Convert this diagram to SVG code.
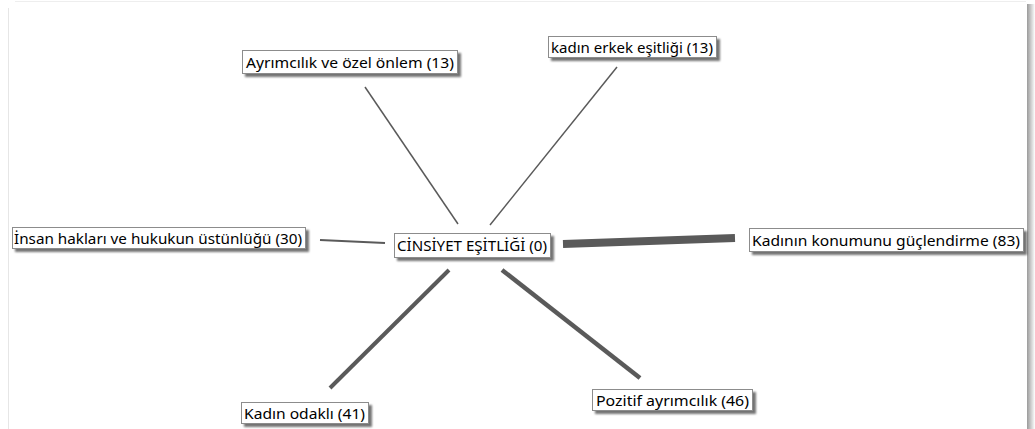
<svg xmlns="http://www.w3.org/2000/svg" width="1035" height="429" viewBox="0 0 1035 429">
<defs>
<linearGradient id="rs" x1="0" x2="1" y1="0" y2="0"><stop offset="0" stop-color="#9a9a9a"/><stop offset="1" stop-color="#ffffff"/></linearGradient>
<filter id="sh" x="-5%" y="-20%" width="115%" height="160%"><feGaussianBlur in="SourceAlpha" stdDeviation="0.8"/><feOffset dx="3" dy="3"/><feComponentTransfer><feFuncA type="linear" slope="0.55"/></feComponentTransfer><feMerge><feMergeNode/><feMergeNode in="SourceGraphic"/></feMerge></filter>
</defs>
<style>
.box{fill:#fff;stroke:#8c8c8c;stroke-width:1;filter:url(#sh)}
.t{font-family:"Noto Sans","Open Sans",sans-serif;font-size:15px;fill:#000}
.c{stroke:#5a5a5a;fill:none}
</style>
<rect width="1035" height="429" fill="#fff"/>
<g id="frame">
<line x1="15" y1="1.5" x2="1026" y2="1.5" stroke="#eeeeee"/>
<line x1="8.5" y1="8" x2="8.5" y2="429" stroke="#e6e6e6"/>
<rect x="1027" y="4" width="8" height="425" fill="url(#rs)"/>
</g>
<g id="connectors">
<line class="c" x1="365" y1="87" x2="458" y2="224" stroke-width="1.5"/>
<line class="c" x1="617" y1="67" x2="490" y2="225" stroke-width="1.5"/>
<line class="c" x1="320" y1="240" x2="385" y2="243" stroke-width="2.2"/>
<line class="c" x1="563" y1="244" x2="735" y2="238" stroke-width="8"/>
<line class="c" x1="449" y1="270" x2="330" y2="388" stroke-width="4"/>
<line class="c" x1="502" y1="270" x2="640" y2="378" stroke-width="4.5"/>
</g>
<g id="n-ayrimcilik"><rect class="box" x="242.5" y="50.5" width="215" height="23"/><text class="t" x="246" y="67.5" textLength="208" lengthAdjust="spacingAndGlyphs">Ayrımcılık ve özel önlem (13)</text></g>
<g id="n-kadin-erkek"><rect class="box" x="548.5" y="36.5" width="168" height="21"/><text class="t" x="551" y="52.5" textLength="162" lengthAdjust="spacingAndGlyphs">kadın erkek eşitliği (13)</text></g>
<g id="n-insan"><rect class="box" x="12.5" y="227.5" width="293" height="21"/><text class="t" x="14" y="243.5" textLength="288" lengthAdjust="spacingAndGlyphs">İnsan hakları ve hukukun üstünlüğü (30)</text></g>
<g id="n-center"><rect class="box" x="394.5" y="233.5" width="156" height="24"/><text class="t" x="397" y="251" textLength="150" lengthAdjust="spacingAndGlyphs">CİNSİYET EŞİTLİĞİ (0)</text></g>
<g id="n-kadinin"><rect class="box" x="749.5" y="228.5" width="274" height="23"/><text class="t" x="752" y="245.5" textLength="268" lengthAdjust="spacingAndGlyphs">Kadının konumunu güçlendirme (83)</text></g>
<g id="n-odakli"><rect class="box" x="241.5" y="402.5" width="127" height="21"/><text class="t" x="244" y="418.5" textLength="121" lengthAdjust="spacingAndGlyphs">Kadın odaklı (41)</text></g>
<g id="n-pozitif"><rect class="box" x="592.5" y="389.5" width="160" height="21"/><text class="t" x="596" y="405.5" textLength="153" lengthAdjust="spacingAndGlyphs">Pozitif ayrımcılık (46)</text></g>
</svg>
